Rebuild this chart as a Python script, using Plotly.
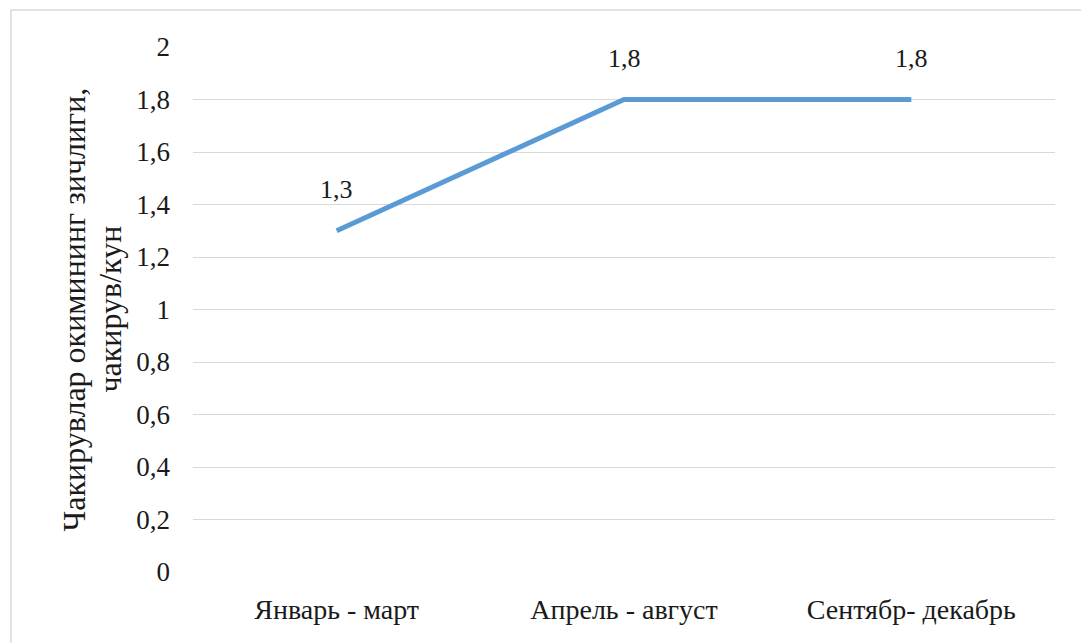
import plotly.graph_objects as go

# Call flow density by period
periods = ["Январь - март", "Апрель - август", "Сентябр- декабрь"]
density = [1.3, 1.8, 1.8]
y_ticks = [0, 0.2, 0.4, 0.6, 0.8, 1, 1.2, 1.4, 1.6, 1.8, 2]
y_title_lines = ["Чакирувлар окимининг зичлиги,", "чакирув/кун"]

FONT = "Times New Roman, Liberation Serif, serif"
TEXT_COLOR = "#1a1a1a"
LINE_COLOR = "#5B9BD5"

fig = go.Figure()
fig.add_trace(go.Scatter(
    x=periods,
    y=density,
    mode="lines",
    line=dict(color=LINE_COLOR, width=5),
    hoverinfo="skip",
    showlegend=False,
))

# value labels above each point
for p, v in zip(periods, density):
    fig.add_annotation(
        x=p, y=v, text=f"{v}".replace(".", ","),
        showarrow=False, yshift=41,
        font=dict(family=FONT, size=26, color=TEXT_COLOR),
    )

# two-line rotated y-axis title
for i, line in enumerate(y_title_lines):
    fig.add_annotation(
        xref="paper", yref="paper",
        x=(73 + 36 * i - 193) / 862, y=0.5,
        text=line, textangle=-90, showarrow=False,
        xanchor="center", yanchor="middle",
        font=dict(family=FONT, size=32, color=TEXT_COLOR),
    )

# outer chart frame
fig.add_shape(
    type="rect", xref="paper", yref="paper",
    x0=(11 - 193) / 862, x1=1.1, y0=-0.2, y1=(572 - 10) / 525,
    line=dict(color="#d9d9d9", width=1.5), fillcolor="rgba(0,0,0,0)",
    layer="below",
)

fig.update_layout(
    width=1081, height=643,
    margin=dict(l=193, r=26, t=47, b=71),
    paper_bgcolor="white", plot_bgcolor="white",
    separators=", ",
    font=dict(family=FONT, color=TEXT_COLOR),
)
fig.update_xaxes(
    type="category", range=[-0.5, 2.5],
    showgrid=False, showline=False, zeroline=False, ticks="",
    tickfont=dict(family=FONT, size=28, color=TEXT_COLOR),
    ticklabelstandoff=18,
)
fig.update_yaxes(
    range=[0, 2], tickvals=y_ticks,
    showgrid=True, gridcolor="#d9d9d9", gridwidth=1.3,
    zeroline=False, showline=False, ticks="",
    tickfont=dict(family=FONT, size=27, color=TEXT_COLOR),
    ticklabelstandoff=22,
)

fig.write_html("out.html")
